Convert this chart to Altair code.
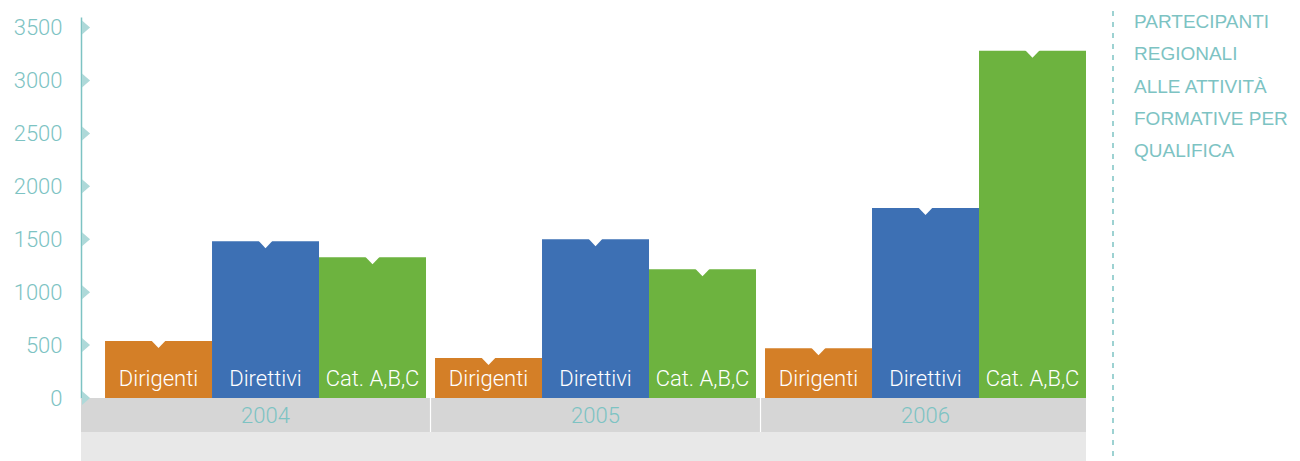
import altair as alt
import pandas as pd

# ---- data ----
years = ["2004", "2005", "2006"]
categories = ["Dirigenti", "Direttivi", "Cat. A,B,C"]
dirigenti = [538, 377, 469]
direttivi = [1482, 1501, 1795]
cat_abc = [1330, 1217, 3281]
y_ticks = [0, 500, 1000, 1500, 2000, 2500, 3000, 3500]
title_lines = ["PARTECIPANTI", "REGIONALI", "ALLE ATTIVITÀ", "FORMATIVE PER", "QUALIFICA"]

colors = ["#D47F27", "#3D70B4", "#6DB33F"]
teal = "#7DC3C3"
tick_teal = "#AED9D9"
FONT = "Roboto"
TITLE_FONT = "Liberation Sans"

rows = []
for i, y in enumerate(years):
    for cat, vals in zip(categories, [dirigenti, direttivi, cat_abc]):
        rows.append({"year": y, "cat": cat, "value": vals[i], "zero": 0})
df = pd.DataFrame(rows)
year_df = pd.DataFrame({"year": years, "zero": [0] * len(years)})
sep_df = pd.DataFrame({"year": years[1:]})
tick_df = pd.DataFrame({"v": y_ticks})
one = pd.DataFrame({"k": [0]})

W, H = 1005, 381

xscale = alt.Scale(domain=years, paddingInner=0.0273, paddingOuter=0.0364, align=1)
yscale = alt.Scale(domain=[0, 3600], nice=False)
x_enc = alt.X("year:N", scale=xscale, axis=None)
xoff = alt.XOffset("cat:N", scale=alt.Scale(domain=categories, paddingInner=0, paddingOuter=0))

bg_dark = alt.Chart(one).mark_rect(color="#D6D6D6").encode(
    x=alt.value(0), x2=alt.value(W), y=alt.value(H), y2=alt.value(H + 34))
bg_light = alt.Chart(one).mark_rect(color="#E8E8E8").encode(
    x=alt.value(0), x2=alt.value(W), y=alt.value(H + 34), y2=alt.value(H + 90))

seps = alt.Chart(sep_df).mark_rule(color="white", strokeWidth=1.2, xOffset=-4.5).encode(
    x=alt.X("year:N", scale=xscale, axis=None, bandPosition=0),
    y=alt.value(H), y2=alt.value(H + 34))

bars = alt.Chart(df).mark_bar(stroke=None).encode(
    x=x_enc,
    xOffset=xoff,
    y=alt.Y("value:Q", scale=yscale,
            axis=alt.Axis(values=y_ticks, format="d", title=None, grid=False, ticks=False,
                          tickSize=0, labelPadding=19, labelFont=FONT, labelFontWeight=300,
                          labelFontSize=22, labelColor=teal, domainColor=teal,
                          domainWidth=1.5)),
    color=alt.Color("cat:N", scale=alt.Scale(domain=categories, range=colors), legend=None),
)

notch = alt.Chart(df).mark_point(
    shape="M-1.1,-0.15 L1.1,-0.15 L0,1 Z", size=196, filled=True, fill="white",
    opacity=1, strokeWidth=0).encode(
    x=x_enc, xOffset=xoff, y=alt.Y("value:Q", scale=yscale))

bar_labels = alt.Chart(df).mark_text(
    color="white", font=FONT, fontWeight=300, fontSize=22, baseline="alphabetic",
    align="center", dy=-12).encode(
    x=x_enc, xOffset=xoff, y=alt.Y("zero:Q", scale=yscale), text="cat:N")

year_labels = alt.Chart(year_df).mark_text(
    color=teal, font=FONT, fontWeight=300, fontSize=22, baseline="alphabetic",
    align="center", dy=25).encode(
    x=x_enc, y=alt.Y("zero:Q", scale=yscale), text="year:N")

tick_marks = alt.Chart(tick_df).mark_point(
    shape="M0,-1 L1.15,0 L0,1 Z", size=196, filled=True, fill=tick_teal,
    opacity=1, strokeWidth=0).encode(
    x=alt.value(1), y=alt.Y("v:Q", scale=yscale))

dash = alt.Chart(one).mark_rule(color=teal, strokeWidth=1.5, strokeDash=[5, 6]).encode(
    x=alt.value(1032), y=alt.value(-17), y2=alt.value(H + 90))

title = alt.Chart(one).mark_text(
    align="left", baseline="alphabetic", lineHeight=32.3, font=TITLE_FONT,
    fontSize=19, color=teal).encode(
    x=alt.value(1053), y=alt.value(11), text=alt.value(title_lines))

chart = alt.layer(
    bg_dark, bg_light, seps, bars, notch, bar_labels, year_labels, tick_marks, dash, title
).properties(
    width=W, height=H,
    padding={"left": 73, "top": 9, "right": 206, "bottom": 63},
    autosize=alt.AutoSizeParams(type="none"),
).configure_view(stroke=None)

chart.save("out.html", embed_options={"renderer": "svg", "actions": False})
